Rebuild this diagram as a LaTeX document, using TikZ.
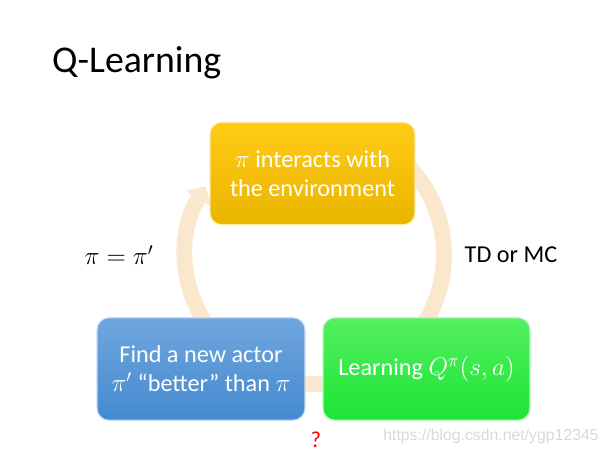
\documentclass[tikz,border=0pt]{standalone}
\usepackage{fontspec}
\setmainfont{Carlito}
\newfontfamily\markfont{Liberation Sans}
\usetikzlibrary{arrows.meta}
\definecolor{ringtan}{RGB}{250,231,206}
\definecolor{yellowtop}{RGB}{255,203,22}
\definecolor{yellowbot}{RGB}{234,181,0}
\definecolor{bluetop}{RGB}{112,166,222}
\definecolor{bluebot}{RGB}{68,138,208}
\definecolor{greentop}{RGB}{84,240,96}
\definecolor{greenbot}{RGB}{28,228,52}
\begin{document}
\begin{tikzpicture}[x=0.02cm, y=0.02cm,
  stage/.style={draw=white!60!#1top, line width=0.6pt, rounded corners=0.24cm, top color=#1top, bottom color=#1bot,
    text=white, align=center, font=\fontsize{13.8}{16.5}\selectfont, minimum height=2.05cm, inner sep=2pt},
  side/.style={font=\fontsize{13.8}{16}\selectfont}]
  \useasboundingbox (0,0) rectangle (611,454);
  % cycle ring behind the boxes
  \coordinate (hub) at (315,199);
  \draw[ringtan, line width=9pt, -{Triangle[width=17pt, length=8pt]}]
    (hub) ++(50:2.58cm) arc[start angle=50, end angle=-212, radius=2.58cm];
  \node[anchor=west, font=\fontsize{21.5}{26}\selectfont] (title) at (46,391) {Q-Learning};
  \node[stage=yellow, minimum width=4.1cm] (act) at (312.5,280.5) {$\pi$ interacts with\\the environment};
  \node[stage=blue, minimum width=4.16cm] (find) at (201,85) {Find a new actor\\$\pi'$ ``better'' than $\pi$};
  \node[stage=green, minimum width=4.14cm] (learn) at (426.5,85) {Learning $Q^{\pi}(s,a)$};
  \node[side] (upd) at (119,199) {$\pi=\pi'$};
  \node[side] (est) at (511,199) {TD or MC};
  \node[red, font=\fontsize{13}{15}\selectfont] (ask) at (316,14) {?};
  \node[gray!30, font=\markfont\fontsize{9}{11}\selectfont] (mark) at (491,18) {https://blog.csdn.net/ygp12345};
\end{tikzpicture}
\end{document}
